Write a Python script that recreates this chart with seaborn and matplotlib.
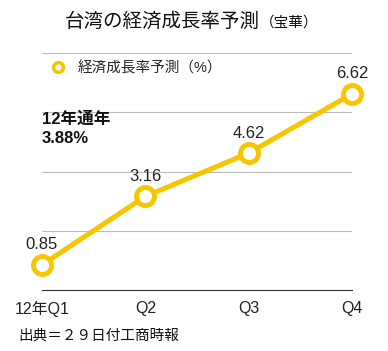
import matplotlib
matplotlib.use("Agg")
import matplotlib.pyplot as plt
from matplotlib.lines import Line2D
import pandas as pd
import seaborn as sns

QUARTERS = ["12年Q1", "Q2", "Q3", "Q4"]
GROWTH = [0.85, 3.16, 4.62, 6.62]
SERIES = "経済成長率予測（%）"
ANNUAL_NOTE = "12年通年\n3.88%"
TITLE = "台湾の経済成長率予測"
TITLE_SUFFIX = "（宝華）"
SOURCE = "出典＝２９日付工商時報"

YELLOW = "#F7C600"


def main():
    sns.set_theme(style="white")
    # latin glyphs from Liberation Sans, CJK falls through to Noto
    plt.rcParams["font.family"] = ["Liberation Sans", "Noto Sans CJK JP", "DejaVu Sans"]

    df = pd.DataFrame({"pos": range(len(QUARTERS)), "growth": GROWTH})

    fig = plt.figure(figsize=(3.88, 3.51), dpi=100)
    ax = fig.add_axes([42 / 388, 61 / 351, 310 / 388, 237 / 351])

    sns.lineplot(data=df, x="pos", y="growth", ax=ax, color=YELLOW, lw=3.6,
                 marker="o", markersize=13, markerfacecolor="white",
                 markeredgecolor=YELLOW, markeredgewidth=3.5, clip_on=False,
                 zorder=3)

    for x, y in zip(df["pos"], df["growth"]):
        ax.annotate(f"{y:.2f}", (x, y), xytext=(0, 9), textcoords="offset points",
                    ha="center", va="bottom", fontsize=12, color="#222222")

    ax.set_xlim(0, 3)
    ax.set_ylim(0, 8)
    ax.set_yticks([2, 4, 6, 8])
    ax.set_yticklabels([])
    ax.set_xticks(range(len(QUARTERS)))
    ax.set_xticklabels(QUARTERS, fontsize=11.5, color="#222222")
    ax.tick_params(axis="both", length=0)
    ax.tick_params(axis="x", pad=8)
    ax.set_xlabel("")
    ax.set_ylabel("")
    ax.yaxis.grid(True, color="#bbbbbb", lw=0.8)
    for side in ["left", "right", "top"]:
        ax.spines[side].set_visible(False)
    ax.spines["bottom"].set_color("#333333")
    ax.spines["bottom"].set_linewidth(0.8)

    ax.text(0, 0.755, ANNUAL_NOTE, transform=ax.transAxes, ha="left", va="top",
            fontsize=12, fontweight="bold", linespacing=1.35, color="#111111")

    handle = Line2D([], [], marker="o", ls="none", markersize=7,
                    markerfacecolor="white", markeredgecolor=YELLOW, markeredgewidth=2.5)
    ax.legend(handles=[handle], labels=[SERIES], loc="center left",
              bbox_to_anchor=(51 / 388, 1 - 68 / 351), bbox_transform=fig.transFigure,
              frameon=False, borderpad=0, borderaxespad=0, handlelength=1,
              handletextpad=0.85, fontsize=10.5)

    fig.text(65 / 388, 1 - 22 / 351, TITLE, fontsize=14,
             ha="left", va="center", color="#111111")
    fig.text(260 / 388, 1 - 23 / 351, TITLE_SUFFIX, fontsize=10.5,
             ha="left", va="center", color="#111111")
    fig.text(18 / 388, 1 - 336 / 351, SOURCE, fontsize=10.5, ha="left", va="center",
             color="#111111")

    fig.savefig("out.png", dpi=100)
    plt.close(fig)


if __name__ == "__main__":
    main()
